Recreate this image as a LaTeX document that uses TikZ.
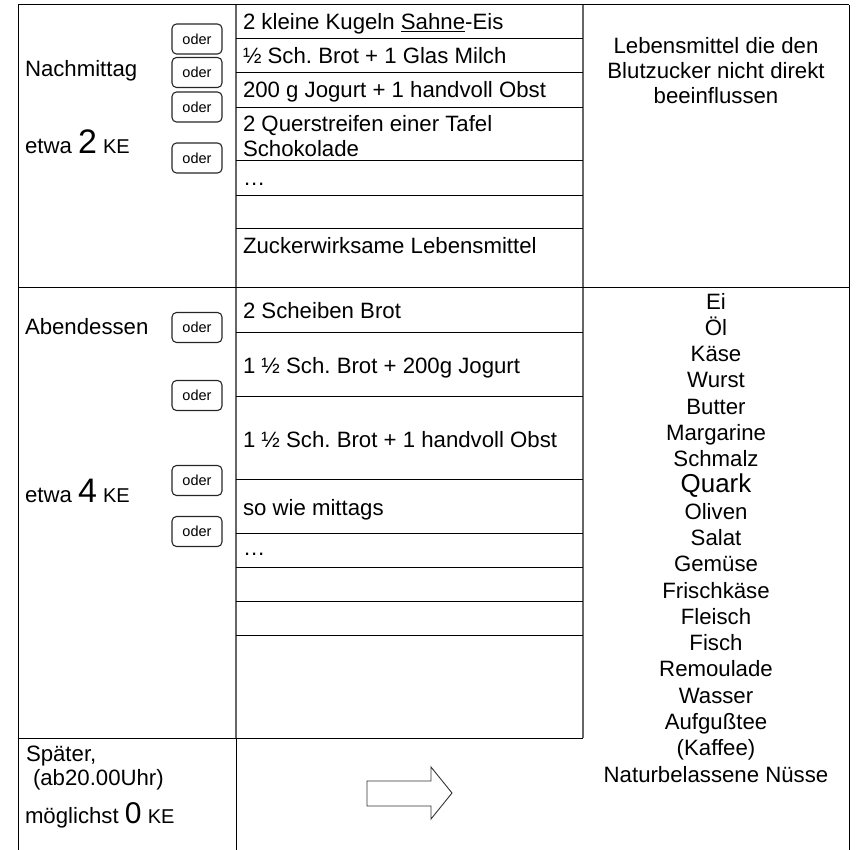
\documentclass[tikz,border=0pt]{standalone}
\usepackage{fontspec}
\setmainfont{Liberation Sans}
\frenchspacing
\begin{document}
\begin{tikzpicture}[x=1pt,y=-1pt,
  every node/.style={inner sep=0pt, outer sep=0pt},
  txt/.style={font=\fontsize{22.2}{25.5}\selectfont, anchor=base west},
  ctr/.style={font=\fontsize{22.2}{25.5}\selectfont, anchor=base},
  oderbox/.style={draw=black!85, line width=1.1pt, rounded corners=4.5pt,
    minimum width=50pt, minimum height=30pt, font=\fontsize{14.5}{16}\selectfont},
  grid/.style={line width=1pt, black},
  vgrid/.style={line width=1.3pt, black!60}]
\useasboundingbox (0,0) rectangle (856,850);
% table lines
\draw[grid] (18,5) -- (849,5);
\draw[grid] (18,5) -- (18,850);
\draw[vgrid] (236,5) -- (236,738);
\draw[grid] (236,738) -- (236,850);
\draw[vgrid] (583,5) -- (583,738);
\draw[grid] (849,5) -- (849,850);
\draw[grid] (18,287) -- (849,287);
\draw[grid] (18,738) -- (583,738);
\foreach \y in {39,73,108,161,196,229,332,396,479,533,567,601,635}
  \draw[grid] (236,\y) -- (583,\y);
% left column
\node[txt] (nm) at (25,77) {Nachmittag};
\node[txt] (e2) at (25,154) {etwa {\fontsize{34}{34}\selectfont 2} {\fontsize{20}{20}\selectfont KE}};
\node[txt] (ab) at (25,334) {Abendessen};
\node[txt] (e4) at (25,502) {etwa {\fontsize{34}{34}\selectfont 4} {\fontsize{20}{20}\selectfont KE}};
\node[txt] (sp) at (26,761) {Später,};
\node[txt] (ab20) at (33,785) {(ab20.00Uhr)};
\node[txt] (m0) at (25,823) {möglichst {\fontsize{30}{30}\selectfont 0} {\fontsize{20}{20}\selectfont KE}};
% oder boxes
\node[oderbox] (o1) at (197,39) {oder};
\node[oderbox] (o2) at (197,72.5) {oder};
\node[oderbox] (o3) at (197,107) {oder};
\node[oderbox] (o4) at (197,158) {oder};
\node[oderbox] (o5) at (197,327.5) {oder};
\node[oderbox] (o6) at (197,395.5) {oder};
\node[oderbox] (o7) at (197,480.5) {oder};
\node[oderbox] (o8) at (197,531.5) {oder};
% middle column
\node[txt] (r1) at (243,30) {2 kleine Kugeln \underline{Sahne}-Eis};
\node[txt] (r2) at (243,64) {½ Sch. Brot + 1 Glas Milch};
\node[txt] (r3) at (243,98) {200 g Jogurt + 1 handvoll Obst};
\node[txt] (r4a) at (243,132) {2 Querstreifen einer Tafel};
\node[txt] (r4b) at (243,157) {Schokolade};
\node[txt] (r5) at (243,186) {…};
\node[txt] (r7) at (243,254) {Zuckerwirksame Lebensmittel};
\node[txt] (s1) at (243,318) {2 Scheiben Brot};
\node[txt] (s2) at (243,373) {1 ½ Sch. Brot + 200g Jogurt};
\node[txt] (s3) at (243,447) {1 ½ Sch. Brot + 1 handvoll Obst};
\node[txt] (s4) at (243,515) {so wie mittags};
\node[txt] (s5) at (243,555) {…};
% right column
\node[ctr] (h1) at (716,54) {Lebensmittel die den};
\node[ctr] (h2) at (716,79) {Blutzucker nicht direkt};
\node[ctr] (h3) at (716,104) {beeinflussen};
\foreach \t [count=\i from 0] in {Ei,Öl,Käse,Wurst,Butter,Margarine,Schmalz,{\fontsize{25.9}{26}\selectfont Quark},Oliven,Salat,Gemüse,Frischkäse,Fleisch,Fisch,Remoulade,Wasser,Aufgußtee,(Kaffee),Naturbelassene Nüsse}
  \node[ctr] (l\i) at (716,309+26.28*\i) {\t};
% block arrow
\draw[line width=0.9pt, black!80, line join=miter]
  (367,781) -- (431,781) -- (431,767) -- (452,793) -- (431,819) -- (431,806) -- (367,806) -- cycle;
\end{tikzpicture}
\end{document}
